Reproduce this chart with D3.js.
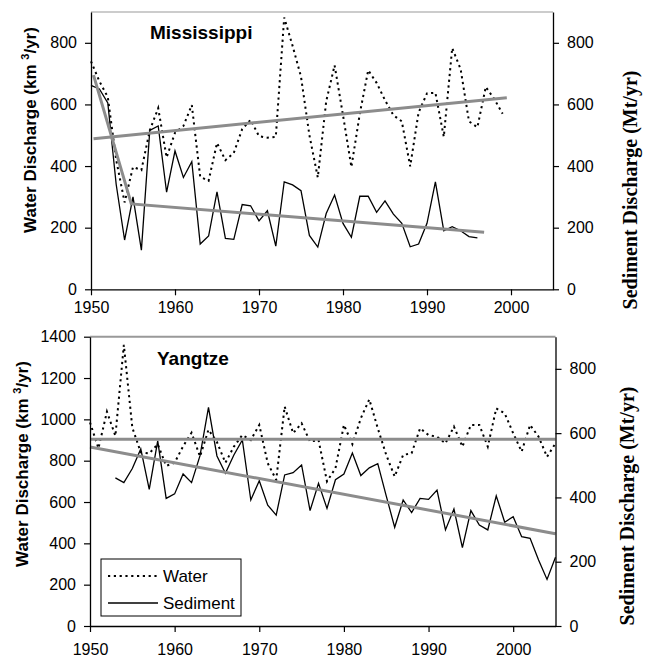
<!DOCTYPE html>
<html>
<head>
<meta charset="utf-8">
<script src="https://cdn.jsdelivr.net/npm/d3@7"></script>
<style>
  body { margin: 0; background: #fff; }
  svg { display: block; }
  .tick text { font-family: "Liberation Sans", Arial, sans-serif; font-size: 16px; fill: #000; }
</style>
</head>
<body>
<svg id="chart" width="645" height="659"></svg>
<script>
// Mississippi, water 1950-1999, sediment 1950-1996
const msWaterStart = 1950;
const msWater = [740, 675, 624, 420, 282, 397, 387, 516, 588, 428,
  508, 530, 598, 365, 352, 475, 419, 443, 520, 550,
  497, 492, 495, 882, 790, 690, 500, 363, 610, 727,
  565, 397, 570, 711, 670, 614, 565, 545, 399, 574,
  636, 638, 495, 783, 715, 545, 526, 657, 618, 570];
const msSedStart = 1950;
const msSed = [662, 650, 605, 340, 160, 300, 127, 516, 530, 315,
  449, 363, 414, 147, 173, 316, 165, 162, 275, 271,
  222, 255, 140, 349, 339, 320, 175, 137, 246, 306,
  214, 169, 302, 302, 250, 287, 244, 214, 138, 147,
  214, 349, 190, 203, 190, 171, 167];
const msWaterTrend = [[1950.3, 489], [1999.5, 622]];
const msSedTrend = [[1950.3, 695], [1954.8, 277], [1996.8, 185]];

// Yangtze, water 1950-2005, sediment 1953-2005
const yzWaterStart = 1950;
const yzWater = [985, 860, 1037, 920, 1360, 960, 840, 835, 880, 775,
  790, 870, 935, 820, 950, 890, 790, 868, 924, 900,
  973, 788, 707, 1062, 933, 981, 892, 900, 700, 763,
  973, 880, 1005, 1097, 957, 828, 723, 828, 836, 957,
  924, 916, 884, 965, 868, 973, 973, 868, 1053, 1029,
  933, 844, 973, 916, 819, 884];
const yzSedStart = 1953;
const yzSed = [461, 446, 490, 551, 425, 576, 397, 411, 473, 446,
  530, 680, 529, 475, 532, 579, 392, 452, 376, 345,
  470, 477, 501, 359, 444, 366, 455, 473, 538, 468,
  492, 505, 405, 307, 392, 353, 397, 394, 423, 299,
  364, 244, 359, 314, 299, 405, 323, 340, 278, 273,
  205, 145, 214];
const yzWaterTrend = [[1950, 904], [2005, 904]];
const yzSedTrend = [[1950, 557], [2005, 287]];

const yearTicks = [1950, 1960, 1970, 1980, 1990, 2000];
const sedTicks = [0, 200, 400, 600, 800];
const msWaterTicks = [0, 200, 400, 600, 800];
const yzWaterTicks = [0, 200, 400, 600, 800, 1000, 1200, 1400];

const svg = d3.select("#chart");
const toPts = (start, vals) => vals.map((v, i) => [start + i, v]);

function drawPanel(p) {
  const x = d3.scaleLinear().domain([1950, 2005]).range([p.left, p.right]);
  const yL = d3.scaleLinear().domain([0, p.leftMax]).range([p.bottom, p.top]);
  const yR = d3.scaleLinear().domain([0, 900]).range([p.bottom, p.top]);
  const g = svg.append("g");

  // top border
  g.append("line")
    .attr("x1", p.left).attr("x2", p.right)
    .attr("y1", p.top).attr("y2", p.top)
    .attr("stroke", "#999").attr("stroke-width", p.topBorder);

  const lineL = d3.line().x(d => x(d[0])).y(d => yL(d[1]));
  const lineR = d3.line().x(d => x(d[0])).y(d => yR(d[1]));

  g.append("path").attr("d", lineL(toPts(p.waterStart, p.water)))
    .attr("fill", "none").attr("stroke", "#000")
    .attr("stroke-width", 2).attr("stroke-dasharray", "2.2,3.6");
  g.append("path").attr("d", lineR(toPts(p.sedStart, p.sed)))
    .attr("fill", "none").attr("stroke", "#000").attr("stroke-width", 1.3);

  g.append("path").attr("d", lineL(p.waterTrend))
    .attr("fill", "none").attr("stroke", "#8c8c8c").attr("stroke-width", 3);
  g.append("path").attr("d", lineR(p.sedTrend))
    .attr("fill", "none").attr("stroke", "#8c8c8c").attr("stroke-width", 3);

  const ax = g.append("g").attr("transform", `translate(0,${p.bottom})`)
    .call(d3.axisBottom(x).tickValues(yearTicks).tickFormat(d3.format("d"))
      .tickSize(6).tickSizeOuter(0).tickPadding(p.xPad));
  const ayL = g.append("g").attr("transform", `translate(${p.left},0)`)
    .call(d3.axisLeft(yL).tickValues(p.leftTicks).tickFormat(d3.format("d"))
      .tickSize(6).tickSizeOuter(0).tickPadding(8));
  const ayR = g.append("g").attr("transform", `translate(${p.right},0)`)
    .call(d3.axisRight(yR).tickValues(sedTicks).tickFormat(d3.format("d"))
      .tickSize(6).tickSizeOuter(0).tickPadding(8));
  [ax, ayL, ayR].forEach(a => {
    a.select(".domain").attr("stroke", "#000").attr("stroke-width", 1.3);
    a.selectAll(".tick line").attr("stroke", "#000").attr("stroke-width", 1.2);
  });

  g.append("text")
    .attr("x", p.titleX).attr("y", p.titleY)
    .attr("font-family", "Liberation Sans, Arial, sans-serif")
    .attr("font-weight", "bold").attr("font-size", 19)
    .text(p.title);

  const lt = g.append("text")
    .attr("transform", `translate(${p.leftLabelX},${p.leftLabelY}) rotate(-90)`)
    .attr("text-anchor", "middle")
    .attr("font-family", "Liberation Sans, Arial, sans-serif")
    .attr("font-weight", "bold").attr("font-size", 17);
  lt.append("tspan").text("Water Discharge (km ");
  lt.append("tspan").attr("font-size", 11).attr("dy", -7).text("3");
  lt.append("tspan").attr("dy", 7).text("/yr)");

  g.append("text")
    .attr("transform", `translate(${p.rightLabelX},${p.rightLabelY}) rotate(-90)`)
    .attr("text-anchor", "middle")
    .attr("font-family", "Liberation Serif, Times New Roman, serif")
    .attr("font-weight", "bold").attr("font-size", 20)
    .text("Sediment Discharge (Mt/yr)");

  return { x, yL };
}

drawPanel({
  left: 91, right: 553, top: 12, bottom: 289.3, topBorder: 1, xPad: 6,
  leftMax: 900, leftTicks: msWaterTicks,
  water: msWater, waterStart: msWaterStart, sed: msSed, sedStart: msSedStart,
  waterTrend: msWaterTrend, sedTrend: msSedTrend,
  title: "Mississippi", titleX: 150, titleY: 39,
  leftLabelX: 36, leftLabelY: 130, rightLabelX: 637, rightLabelY: 190
});

drawPanel({
  left: 90, right: 555.5, top: 336.7, bottom: 626, topBorder: 2, xPad: 12,
  leftMax: 1400, leftTicks: yzWaterTicks,
  water: yzWater, waterStart: yzWaterStart, sed: yzSed, sedStart: yzSedStart,
  waterTrend: yzWaterTrend, sedTrend: yzSedTrend,
  title: "Yangtze", titleX: 157, titleY: 365,
  leftLabelX: 28, leftLabelY: 464, rightLabelX: 634, rightLabelY: 506
});

// legend
const legend = svg.append("g");
legend.append("rect")
  .attr("x", 101).attr("y", 559).attr("width", 140).attr("height", 57)
  .attr("fill", "#fff").attr("stroke", "#000").attr("stroke-width", 1);
const legendItems = [
  { label: "Water", dash: "2.2,3.6", width: 2 },
  { label: "Sediment", dash: null, width: 1.3 }
];
legendItems.forEach((d, i) => {
  const yy = 576 + i * 27;
  legend.append("line")
    .attr("x1", 108).attr("x2", 158).attr("y1", yy).attr("y2", yy)
    .attr("stroke", "#000").attr("stroke-width", d.width)
    .attr("stroke-dasharray", d.dash);
  legend.append("text")
    .attr("x", 163).attr("y", yy + 6)
    .attr("font-family", "Liberation Sans, Arial, sans-serif")
    .attr("font-size", 17).text(d.label);
});
</script>
</body>
</html>
